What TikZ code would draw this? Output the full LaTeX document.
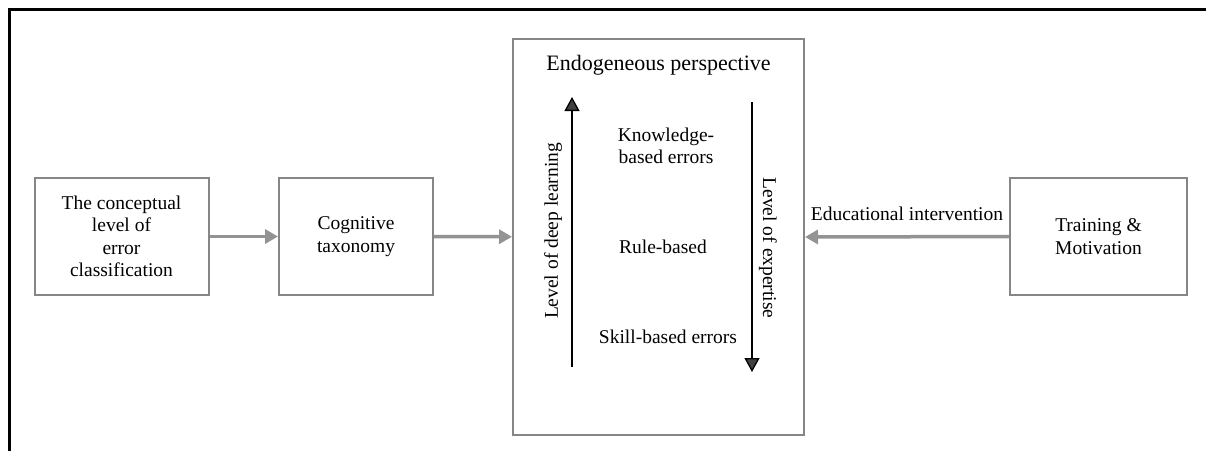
\documentclass[tikz,border=0pt]{standalone}
\usepackage{fontspec}
\setmainfont{Liberation Serif}
\usetikzlibrary{arrows.meta,positioning}

\begin{document}
\begin{tikzpicture}[
        x=1pt, y=-1pt,
        txt/.style={font=\fontsize{19.5}{22.5}\selectfont, align=center},
        stagebox/.style={draw=gray!95, line width=2pt, txt, inner sep=0pt},
        flow/.style={-{Triangle[length=13pt,width=14pt]}, draw=gray!85, fill=gray!85, line width=3.5pt},
        axis/.style={-{Triangle[length=14pt,width=15pt,fill=black!75]}, line width=1.3pt}
      ]
        \useasboundingbox (0,0) rectangle (1206,451);
        % frame around the figure
        \draw[line width=3pt] (9.7,451) -- (9.7,9.7) -- (1206,9.7);

        \node[stagebox, minimum width=174pt, minimum height=117pt] (concept) at (121.5,236.5) {The conceptual\\level of\\error\\classification};
        \node[stagebox, minimum width=154pt, minimum height=117pt] (cognitive) at (356,236.5) {Cognitive\\taxonomy};
        \node[stagebox, minimum width=291pt, minimum height=396pt] (endo) at (658.5,237) {};
        \node[stagebox, minimum width=177pt, minimum height=117pt] (training) at (1098.5,236.5) {Training \&\\Motivation};

        \node[txt, font=\fontsize{22}{24}\selectfont] (title) at (658.5,65) {Endogeneous perspective};
        \node[txt] (knowledge) at (666,146) {Knowledge-\\based errors};
        \node[txt] (rule) at (663,247) {Rule-based};
        \node[txt] (skill) at (668,337) {Skill-based errors};

        \coordinate (deepbot) at (572,367);
        \coordinate (deeptop) at (572,97);
        \coordinate (exptop) at (752,102);
        \coordinate (expbot) at (752,372);
        \draw[axis] (deepbot) -- (deeptop);
        \draw[axis] (exptop) -- (expbot);
        \node[txt, rotate=90] (deep) at (553,231) {Level of deep learning};
        \node[txt, rotate=-90] (expertise) at (768,248) {Level of expertise};

        \draw[flow] (concept) -- (cognitive);
        \draw[flow] (cognitive) -- (endo);
        \draw[flow] (training.west) -- node[txt, above=11pt] (edu) {Educational intervention} (endo.east);
      \end{tikzpicture}
\end{document}
